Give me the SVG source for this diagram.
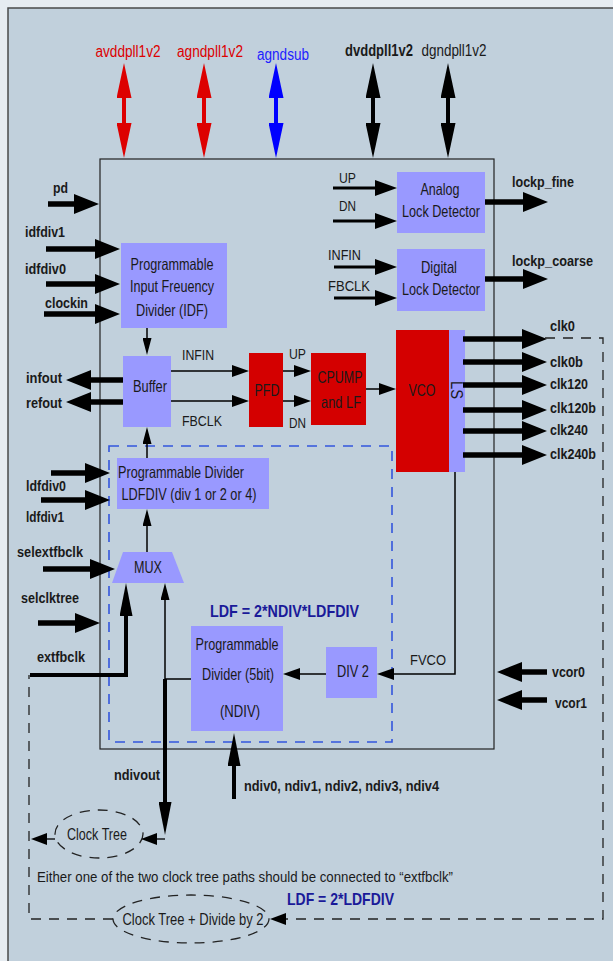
<svg xmlns="http://www.w3.org/2000/svg" width="613" height="961" viewBox="0 0 613 961">
<style>
text{font-family:'Liberation Sans',Arial,sans-serif;fill:#1a1a1a}
.sig{font-size:15.5px;font-weight:bold}
.nrm{font-size:15.5px}
.box{font-size:16.5px;text-anchor:middle}
.top{font-size:16px;text-anchor:middle}
.ldf{font-size:16.5px;font-weight:bold;fill:#1a1a99}
.blk{fill:#9999ff}
.red{fill:#d40000}
.thick{stroke:#000;stroke-width:5.5;fill:none}
.med{stroke:#000;stroke-width:3;fill:none}
.thin{stroke:#000;stroke-width:1.5;fill:none}
.dash{stroke:#222;stroke-width:1.3;fill:none;stroke-dasharray:10 8}
</style>
<defs>
<marker id="big" markerUnits="userSpaceOnUse" markerWidth="25" markerHeight="20" refX="5" refY="10" orient="auto"><path d="M0,0L25,10L0,20z" fill="#000"/></marker>
<marker id="pwrR" markerUnits="userSpaceOnUse" markerWidth="35" markerHeight="15" refX="5" refY="7.5" orient="auto-start-reverse"><path d="M0,0L35,7.5L0,15z" fill="#dd0000"/></marker>
<marker id="pwrB" markerUnits="userSpaceOnUse" markerWidth="35" markerHeight="15" refX="5" refY="7.5" orient="auto-start-reverse"><path d="M0,0L35,7.5L0,15z" fill="#0000ff"/></marker>
<marker id="pwrK" markerUnits="userSpaceOnUse" markerWidth="35" markerHeight="15" refX="5" refY="7.5" orient="auto-start-reverse"><path d="M0,0L35,7.5L0,15z" fill="#000"/></marker>
<marker id="med" markerUnits="userSpaceOnUse" markerWidth="22" markerHeight="16" refX="4" refY="8" orient="auto"><path d="M0,0L22,8L0,16z" fill="#000"/></marker>
<marker id="thin" markerUnits="userSpaceOnUse" markerWidth="17" markerHeight="12" refX="2" refY="6" orient="auto"><path d="M0,0L17,6L0,12z" fill="#000"/></marker>
<marker id="vthin" markerUnits="userSpaceOnUse" markerWidth="17" markerHeight="9" refX="2" refY="4.5" orient="auto"><path d="M0,0L17,4.5L0,9z" fill="#000"/></marker>
<marker id="long" markerUnits="userSpaceOnUse" markerWidth="33" markerHeight="13" refX="4" refY="6.5" orient="auto"><path d="M0,0L33,6.5L0,13z" fill="#000"/></marker>
<marker id="small" markerUnits="userSpaceOnUse" markerWidth="16" markerHeight="12" refX="2" refY="6" orient="auto"><path d="M0,0L16,6L0,12z" fill="#000"/></marker>
</defs>

<rect x="0" y="0" width="613" height="961" fill="#e6ecf1"/>
<rect x="8" y="8" width="620" height="970" fill="#c1d0dc" stroke="#4a4a4a" stroke-width="1.5"/>
<rect id="main" x="100" y="159" width="394" height="590" fill="none" stroke="#222" stroke-width="1.2"/>
<rect id="ldf-region" x="109" y="446" width="283" height="296" fill="none" stroke="#3355dd" stroke-width="1.6" stroke-dasharray="10 8"/>

<g id="idf"><rect class="blk" x="121" y="243" width="106" height="85"/>
<text class="box" x="172" y="270" textLength="83" lengthAdjust="spacingAndGlyphs">Programmable</text><text class="box" x="172" y="292" textLength="84" lengthAdjust="spacingAndGlyphs">Input Freuency</text><text class="box" x="172" y="316" textLength="72" lengthAdjust="spacingAndGlyphs">Divider (IDF)</text></g>
<g id="buffer"><rect class="blk" x="123" y="356" width="48" height="71"/><text class="box" x="150" y="392" textLength="34" lengthAdjust="spacingAndGlyphs">Buffer</text></g>
<g id="pfd"><rect class="red" x="249" y="353" width="34" height="74"/><text class="box" x="267" y="396" textLength="25" lengthAdjust="spacingAndGlyphs">PFD</text></g>
<g id="cpump"><rect class="red" x="311" y="353" width="55" height="72"/><text class="box" x="340" y="383" textLength="45" lengthAdjust="spacingAndGlyphs">CPUMP</text><text class="box" x="341" y="408" textLength="40" lengthAdjust="spacingAndGlyphs">and LF</text></g>
<g id="vco"><rect class="red" x="396" y="330" width="53" height="142"/><text class="box" x="422" y="396" textLength="27" lengthAdjust="spacingAndGlyphs">VCO</text></g>
<g id="ls"><rect class="blk" x="449" y="330" width="16" height="142"/><text class="box" transform="translate(451,390) rotate(90)" x="0" y="0" textLength="18" lengthAdjust="spacingAndGlyphs">LS</text></g>
<g id="ald"><rect class="blk" x="397" y="172" width="88" height="61"/><text class="box" x="440" y="195" textLength="39" lengthAdjust="spacingAndGlyphs">Analog</text><text class="box" x="441" y="217" textLength="78" lengthAdjust="spacingAndGlyphs">Lock Detector</text></g>
<g id="dld"><rect class="blk" x="397" y="249" width="88" height="62"/><text class="box" x="439" y="273" textLength="36" lengthAdjust="spacingAndGlyphs">Digital</text><text class="box" x="441" y="295" textLength="78" lengthAdjust="spacingAndGlyphs">Lock Detector</text></g>
<g id="ldfdiv"><rect class="blk" x="117" y="458" width="152" height="51"/><text class="box" x="181" y="478" textLength="126" lengthAdjust="spacingAndGlyphs">Programmable Divider</text><text class="box" x="189" y="500" textLength="135" lengthAdjust="spacingAndGlyphs">LDFDIV (div 1 or 2 or 4)</text></g>
<g id="mux"><path class="blk" d="M123,552H172L184,583H112z"/><text class="box" x="148" y="573" textLength="28" lengthAdjust="spacingAndGlyphs">MUX</text></g>
<g id="ndiv"><rect class="blk" x="191" y="626" width="92" height="105"/><text class="box" x="237" y="650" textLength="83" lengthAdjust="spacingAndGlyphs">Programmable</text><text class="box" x="238" y="680" textLength="72" lengthAdjust="spacingAndGlyphs">Divider (5bit)</text><text class="box" x="240" y="717" textLength="40" lengthAdjust="spacingAndGlyphs">(NDIV)</text></g>
<g id="div2"><rect class="blk" x="326" y="647" width="51" height="51"/><text class="box" x="353" y="677" textLength="32" lengthAdjust="spacingAndGlyphs">DIV 2</text></g>
<g id="clocktree"><ellipse cx="99" cy="834" rx="44" ry="24" class="dash"/><text class="box" x="97" y="840" textLength="60" lengthAdjust="spacingAndGlyphs">Clock Tree</text></g>
<g id="clocktree2"><ellipse cx="191" cy="919" rx="78" ry="24" class="dash"/><text class="box" x="193" y="925" textLength="141" lengthAdjust="spacingAndGlyphs">Clock Tree + Divide by 2</text></g>

<g id="connectors">
<line x1="124" y1="93" x2="124" y2="128" stroke="#dd0000" stroke-width="4" marker-start="url(#pwrR)" marker-end="url(#pwrR)"/>
<line x1="204" y1="93" x2="204" y2="128" stroke="#dd0000" stroke-width="4" marker-start="url(#pwrR)" marker-end="url(#pwrR)"/>
<line x1="276" y1="93" x2="276" y2="128" stroke="#0000ff" stroke-width="4" marker-start="url(#pwrB)" marker-end="url(#pwrB)"/>
<line x1="373" y1="93" x2="373" y2="128" stroke="#000" stroke-width="4" marker-start="url(#pwrK)" marker-end="url(#pwrK)"/>
<line x1="448" y1="93" x2="448" y2="128" stroke="#000" stroke-width="4" marker-start="url(#pwrK)" marker-end="url(#pwrK)"/>

<line class="thick" x1="48" y1="204" x2="79" y2="204" marker-end="url(#big)"/>
<line class="thick" x1="46" y1="249" x2="100" y2="249" marker-end="url(#big)"/>
<line class="thick" x1="46" y1="284" x2="100" y2="284" marker-end="url(#big)"/>
<line class="thick" x1="44" y1="314" x2="100" y2="314" marker-end="url(#big)"/>
<line class="thick" x1="123" y1="380" x2="86" y2="380" marker-end="url(#big)"/>
<line class="thick" x1="123" y1="402" x2="86" y2="402" marker-end="url(#big)"/>
<line class="thick" x1="51" y1="473" x2="90" y2="473" marker-end="url(#big)"/>
<line class="thick" x1="41" y1="500" x2="90" y2="500" marker-end="url(#big)"/>
<line class="thick" x1="43" y1="569" x2="95" y2="569" marker-end="url(#big)"/>
<line class="thick" x1="38" y1="623" x2="80" y2="623" marker-end="url(#big)"/>
<line class="thick" x1="485" y1="202" x2="528" y2="202" marker-end="url(#big)"/>
<line class="thick" x1="485" y1="279" x2="528" y2="279" marker-end="url(#big)"/>
<line class="thick" x1="463" y1="339" x2="527" y2="339" marker-end="url(#big)"/>
<line class="thick" x1="463" y1="362" x2="527" y2="362" marker-end="url(#big)"/>
<line class="thick" x1="463" y1="385" x2="527" y2="385" marker-end="url(#big)"/>
<line class="thick" x1="463" y1="410" x2="527" y2="410" marker-end="url(#big)"/>
<line class="thick" x1="463" y1="431" x2="527" y2="431" marker-end="url(#big)"/>
<line class="thick" x1="463" y1="455" x2="527" y2="455" marker-end="url(#big)"/>
<line class="thick" x1="547" y1="672" x2="517" y2="672" marker-end="url(#big)"/>
<line class="thick" x1="547" y1="700" x2="517" y2="700" marker-end="url(#big)"/>

<line class="med" x1="333" y1="188" x2="379" y2="188" marker-end="url(#med)"/>
<line class="med" x1="333" y1="221" x2="379" y2="221" marker-end="url(#med)"/>
<line class="med" x1="334" y1="267" x2="379" y2="267" marker-end="url(#med)"/>
<line class="med" x1="334" y1="298" x2="379" y2="298" marker-end="url(#med)"/>

<line class="thin" x1="171" y1="371" x2="234" y2="371" marker-end="url(#thin)"/>
<line class="thin" x1="171" y1="401" x2="234" y2="401" marker-end="url(#thin)"/>
<line class="thin" x1="283" y1="371" x2="296" y2="371" marker-end="url(#thin)"/>
<line class="thin" x1="283" y1="401" x2="296" y2="401" marker-end="url(#thin)"/>
<line class="thin" x1="366" y1="389" x2="381" y2="389" marker-end="url(#thin)"/>
<polyline class="thin" points="455,472 455,674 392,674" marker-end="url(#thin)"/>
<line class="thin" x1="326" y1="674" x2="298" y2="674" marker-end="url(#thin)"/>

<line class="thin" x1="147" y1="328" x2="147" y2="340" marker-end="url(#vthin)"/>
<line class="thin" x1="147" y1="458" x2="147" y2="442" marker-end="url(#vthin)"/>
<line class="thin" x1="147" y1="552" x2="147" y2="524" marker-end="url(#vthin)"/>
<polyline class="thin" points="191,679 165,679 165,598" marker-end="url(#vthin)"/>

<polyline points="30,675 126,675 126,612" stroke="#000" stroke-width="4" fill="none" marker-end="url(#long)"/>
<line x1="165" y1="679" x2="165" y2="806" stroke="#000" stroke-width="4" marker-end="url(#long)"/>
<line x1="234" y1="799" x2="234" y2="762" stroke="#000" stroke-width="4" marker-end="url(#long)"/>

<path class="dash" d="M545,338H603V919H284" marker-end="url(#small)"/>
<path class="dash" d="M113,919H29V675"/>
<line x1="55" y1="839" x2="45" y2="839" stroke="#000" stroke-width="1.3" marker-end="url(#small)"/>
<line x1="165" y1="839" x2="155" y2="839" stroke="#000" stroke-width="1.3" marker-end="url(#small)"/>
</g>

<g id="labels">
<text class="top" x="128" y="57" style="fill:#dd0000" textLength="65" lengthAdjust="spacingAndGlyphs">avddpll1v2</text>
<text class="top" x="210" y="57" style="fill:#dd0000" textLength="66" lengthAdjust="spacingAndGlyphs">agndpll1v2</text>
<text class="top" x="283" y="60" style="fill:#1e1eff" textLength="52" lengthAdjust="spacingAndGlyphs">agndsub</text>
<text class="top" x="379" y="56" style="font-weight:bold" textLength="68" lengthAdjust="spacingAndGlyphs">dvddpll1v2</text>
<text class="top" x="454" y="56" textLength="65" lengthAdjust="spacingAndGlyphs">dgndpll1v2</text>

<text class="sig" x="53" y="193" textLength="15" lengthAdjust="spacingAndGlyphs">pd</text>
<text class="sig" x="25" y="237" textLength="40" lengthAdjust="spacingAndGlyphs">idfdiv1</text>
<text class="sig" x="25" y="274" textLength="41" lengthAdjust="spacingAndGlyphs">idfdiv0</text>
<text class="sig" x="45" y="308" textLength="43" lengthAdjust="spacingAndGlyphs">clockin</text>
<text class="sig" x="26" y="383" textLength="36" lengthAdjust="spacingAndGlyphs">infout</text>
<text class="sig" x="26" y="408" textLength="36" lengthAdjust="spacingAndGlyphs">refout</text>
<text class="sig" x="26" y="491" textLength="40" lengthAdjust="spacingAndGlyphs">ldfdiv0</text>
<text class="sig" x="26" y="522" textLength="38" lengthAdjust="spacingAndGlyphs">ldfdiv1</text>
<text class="sig" x="17" y="557" textLength="66" lengthAdjust="spacingAndGlyphs">selextfbclk</text>
<text class="sig" x="21" y="603" textLength="58" lengthAdjust="spacingAndGlyphs">selclktree</text>
<text class="sig" x="37" y="662" textLength="48" lengthAdjust="spacingAndGlyphs">extfbclk</text>
<text class="sig" x="114" y="780" textLength="46" lengthAdjust="spacingAndGlyphs">ndivout</text>
<text class="sig" x="244" y="791" textLength="195" lengthAdjust="spacingAndGlyphs">ndiv0, ndiv1, ndiv2, ndiv3, ndiv4</text>
<text class="sig" x="512" y="187" textLength="62" lengthAdjust="spacingAndGlyphs">lockp_fine</text>
<text class="sig" x="512" y="266" textLength="81" lengthAdjust="spacingAndGlyphs">lockp_coarse</text>
<text class="sig" x="550" y="331" textLength="25" lengthAdjust="spacingAndGlyphs">clk0</text>
<text class="sig" x="550" y="367" textLength="33" lengthAdjust="spacingAndGlyphs">clk0b</text>
<text class="sig" x="550" y="389" textLength="38" lengthAdjust="spacingAndGlyphs">clk120</text>
<text class="sig" x="550" y="413" textLength="46" lengthAdjust="spacingAndGlyphs">clk120b</text>
<text class="sig" x="550" y="435" textLength="38" lengthAdjust="spacingAndGlyphs">clk240</text>
<text class="sig" x="550" y="459" textLength="46" lengthAdjust="spacingAndGlyphs">clk240b</text>
<text class="sig" x="552" y="677" textLength="33" lengthAdjust="spacingAndGlyphs">vcor0</text>
<text class="sig" x="555" y="708" textLength="32" lengthAdjust="spacingAndGlyphs">vcor1</text>

<text class="nrm" x="339" y="183" textLength="17" lengthAdjust="spacingAndGlyphs">UP</text>
<text class="nrm" x="339" y="211" textLength="17" lengthAdjust="spacingAndGlyphs">DN</text>
<text class="nrm" x="328" y="260" textLength="33" lengthAdjust="spacingAndGlyphs">INFIN</text>
<text class="nrm" x="328" y="291" textLength="42" lengthAdjust="spacingAndGlyphs">FBCLK</text>
<text class="nrm" x="182" y="360" textLength="32" lengthAdjust="spacingAndGlyphs">INFIN</text>
<text class="nrm" x="182" y="426" textLength="40" lengthAdjust="spacingAndGlyphs">FBCLK</text>
<text class="nrm" x="289" y="359" textLength="17" lengthAdjust="spacingAndGlyphs">UP</text>
<text class="nrm" x="289" y="428" textLength="17" lengthAdjust="spacingAndGlyphs">DN</text>
<text class="nrm" x="410" y="665" textLength="36" lengthAdjust="spacingAndGlyphs">FVCO</text>

<text class="ldf" x="210" y="617" textLength="149" lengthAdjust="spacingAndGlyphs">LDF = 2*NDIV*LDFDIV</text>
<text class="nrm" x="37" y="882" style="font-size:15px" textLength="416" lengthAdjust="spacingAndGlyphs">Either one of the two clock tree paths should be connected to “extfbclk”</text>
<text class="ldf" x="287" y="905" textLength="107" lengthAdjust="spacingAndGlyphs">LDF = 2*LDFDIV</text>
</g>
</svg>
